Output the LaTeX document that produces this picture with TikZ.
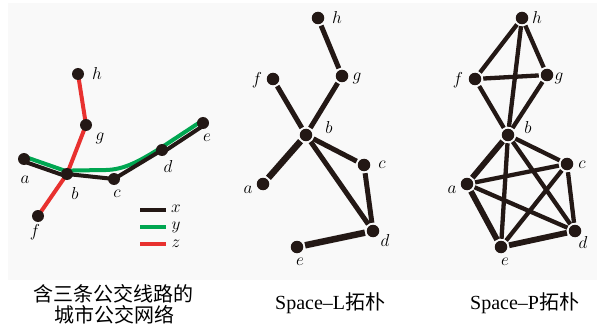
\documentclass[tikz,border=0pt]{standalone}
\usepackage{fontspec}
\newfontfamily\cjk{Noto Sans CJK SC}
\newfontfamily\capfont{Liberation Serif}
\usetikzlibrary{calc}
\definecolor{ink}{HTML}{231815}
\definecolor{gline}{HTML}{00A651}
\definecolor{rline}{HTML}{E8312F}
\definecolor{panel}{HTML}{F9F9F9}
\pgfdeclarelayer{back}
\pgfdeclarelayer{edges}
\pgfsetlayers{back,edges,main}
\begin{document}
\begin{tikzpicture}[x=1pt,y=-1pt,
  vtx/.style={circle,fill=ink,inner sep=0pt,minimum size=12.5pt},
  svtx/.style={circle,fill=ink,inner sep=0pt,minimum size=12pt},
  lbl/.style={font=\fontsize{16}{18}\selectfont,inner sep=0pt},
  captext/.style={font=\fontsize{20}{24}\selectfont,inner sep=0pt},
  ed/.style={draw=ink,line width=5pt,shorten <=1.8pt,shorten >=1.8pt},
  edt/.style={draw=ink,line width=6.5pt,shorten <=1.8pt,shorten >=1.8pt},
  pe/.style={draw=ink,line width=4.3pt,shorten <=1.8pt,shorten >=1.8pt},
  pet/.style={draw=ink,line width=5.8pt,shorten <=1.8pt,shorten >=1.8pt},
  bl/.style={draw=ink,line width=4pt},
  gl/.style={draw=gline,line width=4pt},
  rl/.style={draw=rline,line width=4pt}]
\useasboundingbox (0,0) rectangle (597,326);
\begin{pgfonlayer}{back}
\fill[panel] (8,3) rectangle (597,280);
\end{pgfonlayer}

% ---------- panel 1 ----------
\node[svtx] (h1) at (78,74) {};
\node[svtx] (g1) at (86,125) {};
\node[svtx] (a1) at (24,159) {};
\node[svtx] (b1) at (67,174) {};
\node[svtx] (c1) at (114,179) {};
\node[svtx] (d1) at (162,150) {};
\node[svtx] (e1) at (203,123) {};
\node[svtx] (f1) at (38,216) {};
\begin{pgfonlayer}{edges}
\draw[rl] (h1.center) -- (g1.center) -- (b1.center) -- (f1.center);
\draw[gl] ($(a1)!2.4pt!90:(b1)$) -- ($(b1)!2.4pt!-90:(a1)$) -- ($(b1)+(6,-3.5)$)
  -- (106,170) .. controls (124,169.5) and (138,162) .. ($(d1)!2.4pt!90:(e1)$)
  -- ($(e1)!2.4pt!-90:(d1)$);
\draw[bl] ($(a1)!2.4pt!-90:(b1)$) -- ($(b1)!2.4pt!90:(a1)$);
\draw[bl] (b1.center) -- (c1.center) -- (d1.center);
\draw[bl] ($(d1)!2.4pt!-90:(e1)$) -- ($(e1)!2.4pt!90:(d1)$);
\end{pgfonlayer}
\node[lbl] (lh1) at (97,74) {$h$};
\node[lbl] (lg1) at (100,138) {$g$};
\node[lbl] (la1) at (25,180) {$a$};
\node[lbl] (lb1) at (75,193) {$b$};
\node[lbl] (lc1) at (117,194) {$c$};
\node[lbl] (ld1) at (168,166) {$d$};
\node[lbl] (le1) at (207,138) {$e$};
\node[lbl] (lf1) at (35,232) {$f$};
% legend
\coordinate (x0) at (140,210); \coordinate (x1) at (166,210);
\coordinate (y0) at (140,227); \coordinate (y1) at (166,227);
\coordinate (z0) at (140,244); \coordinate (z1) at (166,244);
\draw[bl,line width=4.5pt] (x0) -- (x1);
\draw[gl,line width=4.5pt] (y0) -- (y1);
\draw[rl,line width=4.5pt] (z0) -- (z1);
\node[lbl] (lx) at (176,209) {$x$};
\node[lbl] (ly) at (176,227) {$y$};
\node[lbl] (lz) at (176,244) {$z$};

% ---------- panel 2 ----------
\node[vtx] (h2) at (318,18) {};
\node[vtx] (g2) at (342,76) {};
\node[vtx] (f2) at (273,79) {};
\node[vtx] (b2) at (306,135) {};
\node[vtx] (c2) at (364,165) {};
\node[vtx] (a2) at (263,184) {};
\node[vtx] (d2) at (373,231) {};
\node[vtx] (e2) at (297,247) {};
\draw[ed] (h2) -- (g2);
\draw[ed] (g2) -- (b2);
\draw[ed] (f2) -- (b2);
\draw[edt] (b2) -- (a2);
\draw[ed] (b2) -- (c2);
\draw[ed] (b2) -- (d2);
\draw[ed] (c2) -- (d2);
\draw[edt] (d2) -- (e2);
\node[lbl] (lh2) at (337,18) {$h$};
\node[lbl] (lg2) at (357,78) {$g$};
\node[lbl] (lf2) at (257,80) {$f$};
\node[lbl] (lb2) at (329,128) {$b$};
\node[lbl] (lc2) at (382,165) {$c$};
\node[lbl] (la2) at (248,190) {$a$};
\node[lbl] (ld2) at (385,240) {$d$};
\node[lbl] (le2) at (300,262) {$e$};

% ---------- panel 3 ----------
\node[vtx] (h3) at (522,18) {};
\node[vtx] (f3) at (475,79) {};
\node[vtx] (g3) at (547,75) {};
\node[vtx] (b3) at (508,135) {};
\node[vtx] (c3) at (567,164) {};
\node[vtx] (a3) at (467,184) {};
\node[vtx] (d3) at (575,231) {};
\node[vtx] (e3) at (501,247) {};
\draw[pe] (h3) -- (f3);
\draw[pe] (h3) -- (g3);
\draw[pe] (h3) -- (b3);
\draw[pe] (f3) -- (g3);
\draw[pe] (f3) -- (b3);
\draw[pe] (g3) -- (b3);
\draw[pet] (b3) -- (a3);
\draw[pe] (b3) -- (c3);
\draw[pe] (b3) -- (d3);
\draw[pe] (b3) -- (e3);
\draw[pe] (a3) -- (c3);
\draw[pe] (a3) -- (d3);
\draw[pet] (a3) -- (e3);
\draw[pe] (c3) -- (d3);
\draw[pe] (c3) -- (e3);
\draw[pet] (d3) -- (e3);
\node[lbl] (lh3) at (537,18) {$h$};
\node[lbl] (lg3) at (559,78) {$g$};
\node[lbl] (lf3) at (458,80) {$f$};
\node[lbl] (lb3) at (528,128) {$b$};
\node[lbl] (lc3) at (582,165) {$c$};
\node[lbl] (la3) at (452,190) {$a$};
\node[lbl] (ld3) at (583,242) {$d$};
\node[lbl] (le3) at (505,262) {$e$};

% ---------- captions ----------
\node[captext] (cap1a) at (113,294) {\cjk 含三条公交线路的};
\node[captext] (cap1b) at (114,315) {\cjk 城市公交网络};
\node[captext,anchor=west] (cap2) at (275,303) {\capfont Space–L\cjk 拓朴};
\node[captext,anchor=west] (cap3) at (470,303) {\capfont Space–P\cjk 拓朴};
\end{tikzpicture}
\end{document}
